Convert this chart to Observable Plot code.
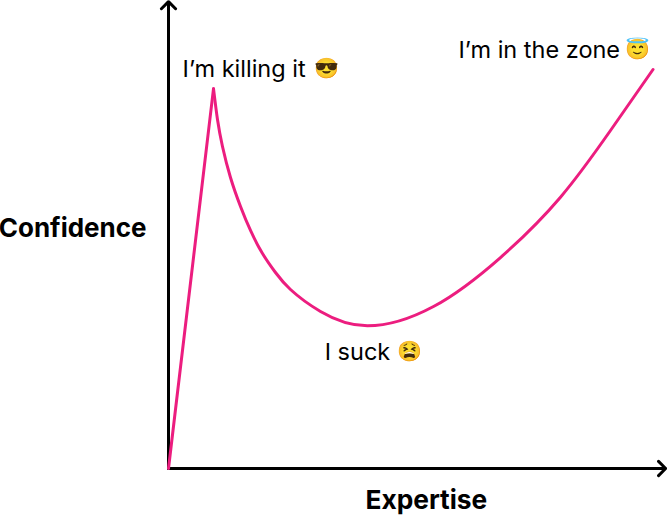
<!DOCTYPE html>
<html><head><meta charset="utf-8">
<style>html,body{margin:0;padding:0;background:#fff}svg{display:block}</style>
<script src="https://cdn.jsdelivr.net/npm/d3@7"></script>
<script src="https://cdn.jsdelivr.net/npm/@observablehq/plot@0.6"></script>
</head><body><div id="chart"></div>
<script>
const riseExpertise = [0, 9.28];
const riseConfidence = [0, 95.2];
const fallExpertise = [9.28, 10.1, 11.13, 12.78, 14.85, 16.91, 19.38, 22.06, 25.15, 31.34, 41.03, 54.64, 68.45, 80.82, 91.13, 99.9];
const fallConfidence = [95.2, 87.47, 80.7, 72.93, 65.66, 59.65, 53.88, 49.12, 44.86, 39.35, 35.76, 40.6, 52.88, 68.0, 84.71, 100];
const labels = ["I’m killing it", "I’m in the zone", "I suck"];
const labelExpertise = [2.9, 59.8, 32.2];
const labelConfidence = [100, 104.7, 29];
const emojis = ["😎", "😇", "😫"];
const emojiExpertise = [32.6, 96.7, 49.7];
const emojiConfidence = [100.2, 105, 29.4];
const axisLabels = ["Confidence", "Expertise"];
const rise = riseExpertise.map((x,i)=>({x,y:riseConfidence[i]}));
const fall = fallExpertise.map((x,i)=>({x,y:fallConfidence[i]}));
const ann = labels.map((t,i)=>({t,x:labelExpertise[i],y:labelConfidence[i]}));
const emo = emojis.map((t,i)=>({t,x:emojiExpertise[i],y:emojiConfidence[i]}));
const font = "Inter, sans-serif";
const chart = Plot.plot({
  width:667,height:525,margin:0,
  x:{domain:[0,100],range:[168,653],axis:null},
  y:{domain:[0,100],range:[468,69],axis:null},
  marks:[
    Plot.arrow([{x1:0,y1:0,x2:0,y2:117}],{x1:"x1",y1:"y1",x2:"x2",y2:"y2",stroke:"#000",strokeWidth:3,headAngle:90,headLength:5}),
    Plot.arrow([{x1:0,y1:0,x2:102.5,y2:0}],{x1:"x1",y1:"y1",x2:"x2",y2:"y2",stroke:"#000",strokeWidth:3,headAngle:90,headLength:5}),
    Plot.line(rise,{x:"x",y:"y",stroke:"#ec1d7f",strokeWidth:3}),
    Plot.line(fall,{x:"x",y:"y",stroke:"#ec1d7f",strokeWidth:3,curve:"natural"}),
    Plot.text(ann,{x:"x",y:"y",text:"t",textAnchor:"start",fontSize:23.5,fontFamily:font,fill:"#000"}),
    Plot.text(emo,{x:"x",y:"y",text:"t",textAnchor:"middle",fontSize:20,fill:"#000"}),
    Plot.text([{t:axisLabels[0],x:-35,y:60.2}],{x:"x",y:"y",text:"t",textAnchor:"start",fontSize:26,fontWeight:700,fontFamily:font,fill:"#000"}),
    Plot.text([{t:axisLabels[1],x:40.6,y:-8}],{x:"x",y:"y",text:"t",textAnchor:"start",fontSize:26.3,fontWeight:700,fontFamily:font,fill:"#000"})
  ]
});
document.getElementById("chart").append(chart);
</script></body></html>
